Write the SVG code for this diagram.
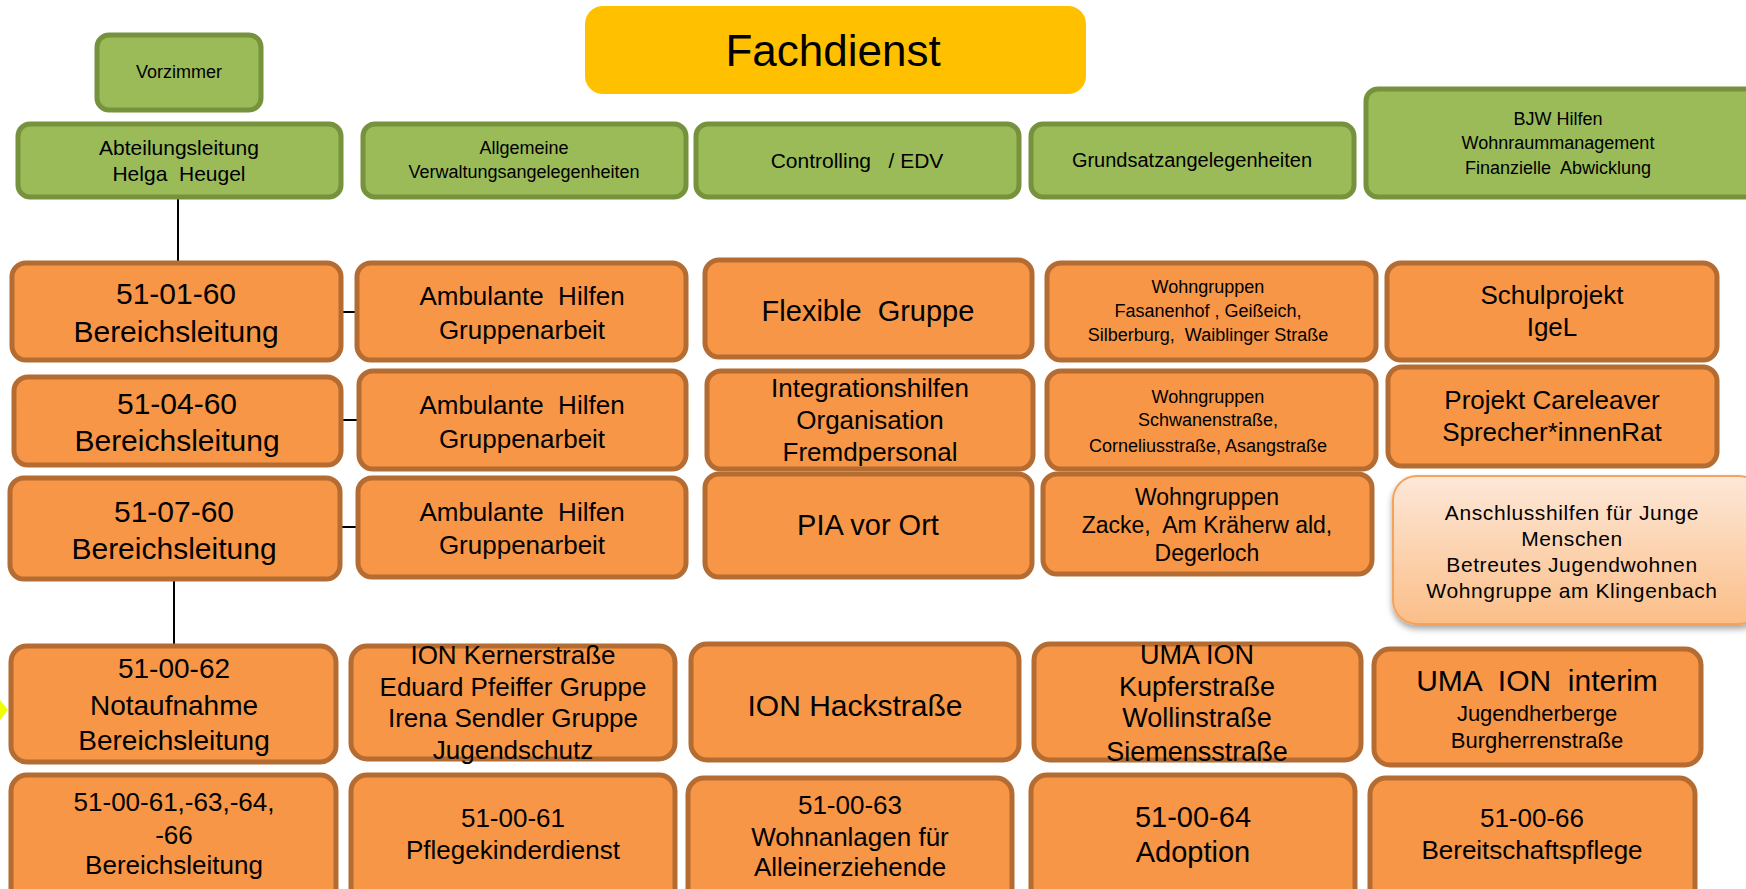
<svg xmlns="http://www.w3.org/2000/svg" width="1746" height="889" viewBox="0 0 1746 889" xml:space="preserve">
<defs>
<style>
text{font-family:"Liberation Sans",Arial,sans-serif;fill:#000;text-anchor:middle;dominant-baseline:central;white-space:pre}
.g{fill:#9BBB59;stroke:#76923C;stroke-width:5}
.o{fill:#F79646;stroke:#B46C32;stroke-width:5}
.c{stroke:#000;stroke-width:2;fill:none}
</style>
<linearGradient id="pg" x1="0" y1="0" x2="0" y2="1">
<stop offset="0" stop-color="#FDE8D8"/>
<stop offset="1" stop-color="#FBBE88"/>
</linearGradient>
<filter id="sh" x="-10%" y="-10%" width="120%" height="130%">
<feDropShadow dx="0" dy="4" stdDeviation="3" flood-color="#000" flood-opacity="0.35"/>
</filter>
</defs>
<rect width="1746" height="889" fill="#fff"/>

<g id="connectors">
<line class="c" x1="178" y1="198" x2="178" y2="262"/>
<line class="c" x1="174" y1="580" x2="174" y2="645"/>
<line class="c" x1="342" y1="312" x2="357" y2="312"/>
<line class="c" x1="341" y1="420" x2="359" y2="420"/>
<line class="c" x1="340" y1="527" x2="357" y2="527"/>
</g>

<g id="fachdienst">
<rect x="585" y="6" width="501" height="88" rx="18" fill="#FFC000"/>
<text x="833" y="50" font-size="44">Fachdienst</text>
</g>

<g id="vorzimmer">
<rect class="g" x="97" y="35" width="164" height="75" rx="12"/>
<text x="179" y="72" font-size="18">Vorzimmer</text>
</g>
<g id="abteilungsleitung">
<rect class="g" x="18" y="124" width="323" height="73" rx="12"/>
<text x="179" y="147" font-size="21">Abteilungsleitung</text>
<text x="179" y="173" font-size="21">Helga  Heugel</text>
</g>
<g id="verwaltung">
<rect class="g" x="363" y="124" width="323" height="73" rx="12"/>
<text x="524" y="148" font-size="18">Allgemeine</text>
<text x="524" y="172" font-size="18">Verwaltungsangelegenheiten</text>
</g>
<g id="controlling">
<rect class="g" x="696" y="124" width="323" height="73" rx="12"/>
<text x="857" y="160" font-size="21">Controlling   / EDV</text>
</g>
<g id="grundsatz">
<rect class="g" x="1031" y="124" width="323" height="73" rx="12"/>
<text x="1192" y="160" font-size="20">Grundsatzangelegenheiten</text>
</g>
<g id="bjw">
<rect class="g" x="1366" y="89" width="400" height="108" rx="12"/>
<text x="1558" y="119" font-size="18">BJW Hilfen</text>
<text x="1558" y="143" font-size="18">Wohnraummanagement</text>
<text x="1558" y="168" font-size="18">Finanzielle  Abwicklung</text>
</g>

<g id="bl-51-01-60">
<rect class="o" x="12" y="263" width="329" height="97" rx="14"/>
<text x="176" y="293" font-size="30">51-01-60</text>
<text x="176" y="331" font-size="30">Bereichsleitung</text>
</g>
<g id="amb-1">
<rect class="o" x="357" y="263" width="329" height="97" rx="14"/>
<text x="522" y="296" font-size="26">Ambulante  Hilfen</text>
<text x="522" y="330" font-size="26">Gruppenarbeit</text>
</g>
<g id="flexible">
<rect class="o" x="705" y="260" width="327" height="97" rx="14"/>
<text x="868" y="311" font-size="29">Flexible  Gruppe</text>
</g>
<g id="wg-fasanenhof">
<rect class="o" x="1047" y="263" width="329" height="97" rx="14"/>
<text x="1208" y="287" font-size="18">Wohngruppen</text>
<text x="1208" y="311" font-size="18">Fasanenhof , Geißeich,</text>
<text x="1208" y="335" font-size="18">Silberburg,  Waiblinger Straße</text>
</g>
<g id="schulprojekt">
<rect class="o" x="1387" y="263" width="330" height="97" rx="14"/>
<text x="1552" y="295" font-size="26">Schulprojekt</text>
<text x="1552" y="327" font-size="26">IgeL</text>
</g>

<g id="bl-51-04-60">
<rect class="o" x="14" y="377" width="327" height="88" rx="14"/>
<text x="177" y="403" font-size="30">51-04-60</text>
<text x="177" y="440" font-size="30">Bereichsleitung</text>
</g>
<g id="amb-2">
<rect class="o" x="359" y="371" width="327" height="98" rx="14"/>
<text x="522" y="405" font-size="26">Ambulante  Hilfen</text>
<text x="522" y="439" font-size="26">Gruppenarbeit</text>
</g>
<g id="integration">
<rect class="o" x="707" y="371" width="326" height="98" rx="14"/>
<text x="870" y="388" font-size="26">Integrationshilfen</text>
<text x="870" y="420" font-size="26">Organisation</text>
<text x="870" y="452" font-size="26">Fremdpersonal</text>
</g>
<g id="wg-schwanen">
<rect class="o" x="1047" y="371" width="329" height="98" rx="14"/>
<text x="1208" y="397" font-size="18">Wohngruppen</text>
<text x="1208" y="420" font-size="18">Schwanenstraße,</text>
<text x="1208" y="446" font-size="18">Corneliusstraße, Asangstraße</text>
</g>
<g id="careleaver">
<rect class="o" x="1388" y="367" width="329" height="99" rx="14"/>
<text x="1552" y="400" font-size="26">Projekt Careleaver</text>
<text x="1552" y="432" font-size="26">Sprecher*innenRat</text>
</g>

<g id="bl-51-07-60">
<rect class="o" x="10" y="478" width="330" height="101" rx="14"/>
<text x="174" y="511" font-size="30">51-07-60</text>
<text x="174" y="548" font-size="30">Bereichsleitung</text>
</g>
<g id="amb-3">
<rect class="o" x="358" y="478" width="328" height="99" rx="14"/>
<text x="522" y="512" font-size="26">Ambulante  Hilfen</text>
<text x="522" y="545" font-size="26">Gruppenarbeit</text>
</g>
<g id="pia">
<rect class="o" x="705" y="474" width="327" height="103" rx="14"/>
<text x="868" y="525" font-size="29">PIA vor Ort</text>
</g>
<g id="wg-zacke">
<rect class="o" x="1043" y="474" width="329" height="100" rx="14"/>
<text x="1207" y="497" font-size="23">Wohngruppen</text>
<text x="1207" y="525" font-size="23">Zacke,  Am Kräherw ald,</text>
<text x="1207" y="553" font-size="23">Degerloch</text>
</g>
<g id="anschlusshilfen">
<rect x="1393" y="476" width="370" height="148" rx="24" fill="url(#pg)" stroke="#F5A35C" stroke-width="2" filter="url(#sh)"/>
<text x="1572" y="512" font-size="21" letter-spacing="0.6">Anschlusshilfen für Junge</text>
<text x="1572" y="538" font-size="21" letter-spacing="0.6">Menschen</text>
<text x="1572" y="564" font-size="21" letter-spacing="0.6">Betreutes Jugendwohnen</text>
<text x="1572" y="590" font-size="21" letter-spacing="0.6">Wohngruppe am Klingenbach</text>
</g>

<polygon id="marker-arrow" points="0,700 8,710 0,720" fill="#EEFF00"/>

<g id="notaufnahme">
<rect class="o" x="11" y="646" width="325" height="116" rx="16"/>
<text x="174" y="668" font-size="28">51-00-62</text>
<text x="174" y="705" font-size="28">Notaufnahme</text>
<text x="174" y="740" font-size="28">Bereichsleitung</text>
</g>
<g id="ion-kerner">
<rect class="o" x="351" y="646" width="324" height="113" rx="16"/>
<text x="513" y="655" font-size="26">ION Kernerstraße</text>
<text x="513" y="687" font-size="26">Eduard Pfeiffer Gruppe</text>
<text x="513" y="718" font-size="26">Irena Sendler Gruppe</text>
<text x="513" y="750" font-size="26">Jugendschutz</text>
</g>
<g id="ion-hack">
<rect class="o" x="691" y="644" width="328" height="116" rx="16"/>
<text x="855" y="705" font-size="30">ION Hackstraße</text>
</g>
<g id="uma-ion">
<rect class="o" x="1034" y="644" width="327" height="116" rx="16"/>
<text x="1197" y="655" font-size="27">UMA ION</text>
<text x="1197" y="687" font-size="27">Kupferstraße</text>
<text x="1197" y="718" font-size="27">Wollinstraße</text>
<text x="1197" y="752" font-size="27">Siemensstraße</text>
</g>
<g id="uma-interim">
<rect class="o" x="1374" y="649" width="327" height="116" rx="16"/>
<text x="1537" y="680" font-size="30">UMA  ION  interim</text>
<text x="1537" y="713" font-size="22">Jugendherberge</text>
<text x="1537" y="740" font-size="22">Burgherrenstraße</text>
</g>

<g id="bl-51-00-61">
<rect class="o" x="11" y="775" width="325" height="130" rx="16"/>
<text x="174" y="802" font-size="26">51-00-61,-63,-64,</text>
<text x="174" y="835" font-size="26">-66</text>
<text x="174" y="865" font-size="26">Bereichsleitung</text>
</g>
<g id="pflegekinder">
<rect class="o" x="351" y="775" width="324" height="130" rx="16"/>
<text x="513" y="818" font-size="26">51-00-61</text>
<text x="513" y="850" font-size="26">Pflegekinderdienst</text>
</g>
<g id="wohnanlagen">
<rect class="o" x="688" y="778" width="324" height="130" rx="16"/>
<text x="850" y="805" font-size="26">51-00-63</text>
<text x="850" y="837" font-size="26">Wohnanlagen für</text>
<text x="850" y="867" font-size="26">Alleinerziehende</text>
</g>
<g id="adoption">
<rect class="o" x="1031" y="775" width="324" height="130" rx="16"/>
<text x="1193" y="817" font-size="29">51-00-64</text>
<text x="1193" y="852" font-size="29">Adoption</text>
</g>
<g id="bereitschaft">
<rect class="o" x="1370" y="778" width="325" height="130" rx="16"/>
<text x="1532" y="818" font-size="26">51-00-66</text>
<text x="1532" y="850" font-size="26">Bereitschaftspflege</text>
</g>
</svg>
